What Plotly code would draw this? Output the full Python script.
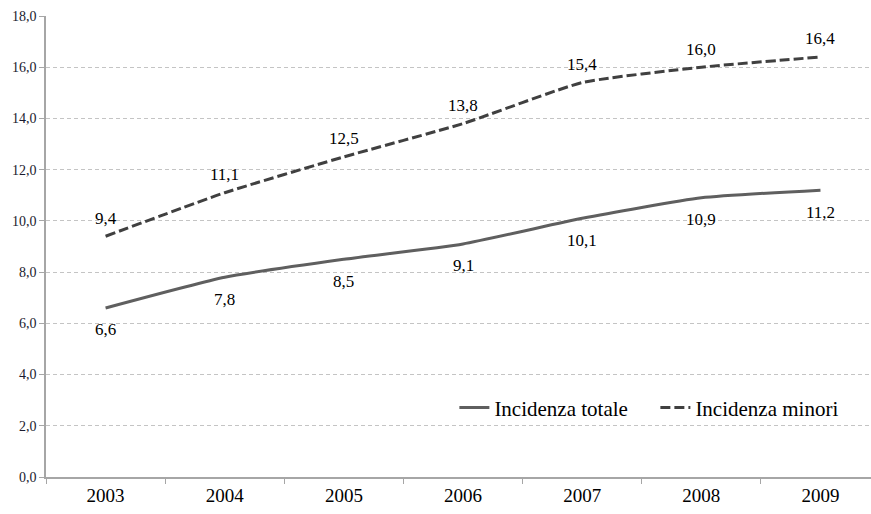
import plotly.graph_objects as go

# Incidenza della povertà relativa, 2003-2009
anni = ["2003", "2004", "2005", "2006", "2007", "2008", "2009"]
incidenza_totale = [6.6, 7.8, 8.5, 9.1, 10.1, 10.9, 11.2]
incidenza_minori = [9.4, 11.1, 12.5, 13.8, 15.4, 16.0, 16.4]
y_ticks = [0, 2, 4, 6, 8, 10, 12, 14, 16, 18]

SERIF = "Liberation Serif"


def virgola(v, dec=1):
    return f"{v:.{dec}f}".replace(".", ",")


fig = go.Figure()
fig.add_trace(go.Scatter(
    x=anni, y=incidenza_totale, name="Incidenza totale", mode="lines",
    line=dict(color="#5f5f5f", width=3, shape="spline", smoothing=0.5),
))
fig.add_trace(go.Scatter(
    x=anni, y=incidenza_minori, name="Incidenza minori", mode="lines",
    line=dict(color="#404040", width=3, dash="10px,4px", shape="spline", smoothing=0.5),
))

# value labels: below the total line, above the minors line
# (x given as category index so numeric-looking year names are not misread)
for i, v in enumerate(incidenza_totale):
    fig.add_annotation(x=i, y=v, xref="x", yref="y", text=virgola(v),
                       showarrow=False, yshift=-22,
                       font=dict(family=SERIF, size=17, color="#000000"))
for i, v in enumerate(incidenza_minori):
    fig.add_annotation(x=i, y=v, xref="x", yref="y", text=virgola(v),
                       showarrow=False, yshift=18,
                       font=dict(family=SERIF, size=17, color="#000000"))

fig.update_layout(
    width=871, height=514,
    margin=dict(l=46, r=0, t=16, b=37),
    paper_bgcolor="white", plot_bgcolor="white",
    font=dict(family=SERIF, color="#000000"),
    showlegend=True,
    legend=dict(
        orientation="h", x=0.495, y=0.15, xanchor="left", yanchor="middle",
        font=dict(family=SERIF, size=21, color="#000000"),
        bgcolor="rgba(255,255,255,0)", itemwidth=30, entrywidth=156,
    ),
    xaxis=dict(
        type="category", range=[-0.5, 6.424],
        showline=True, linecolor="#a6a6a6", linewidth=1.5,
        ticks="outside", tickson="boundaries", ticklen=5, tickcolor="#a6a6a6",
        showgrid=False, zeroline=False,
        tickfont=dict(family=SERIF, size=19, color="#000000"),
    ),
    yaxis=dict(
        range=[0, 18], tickvals=y_ticks,
        ticktext=[virgola(t) for t in y_ticks],
        showline=True, linecolor="#a6a6a6", linewidth=1.5,
        ticks="outside", ticklen=5, tickcolor="#a6a6a6",
        showgrid=True, gridcolor="#c4c4c4", griddash="4px,3px", gridwidth=1,
        zeroline=False,
        tickfont=dict(family=SERIF, size=14, color="#1a1a2e"),
    ),
)

fig.write_html("out.html")
